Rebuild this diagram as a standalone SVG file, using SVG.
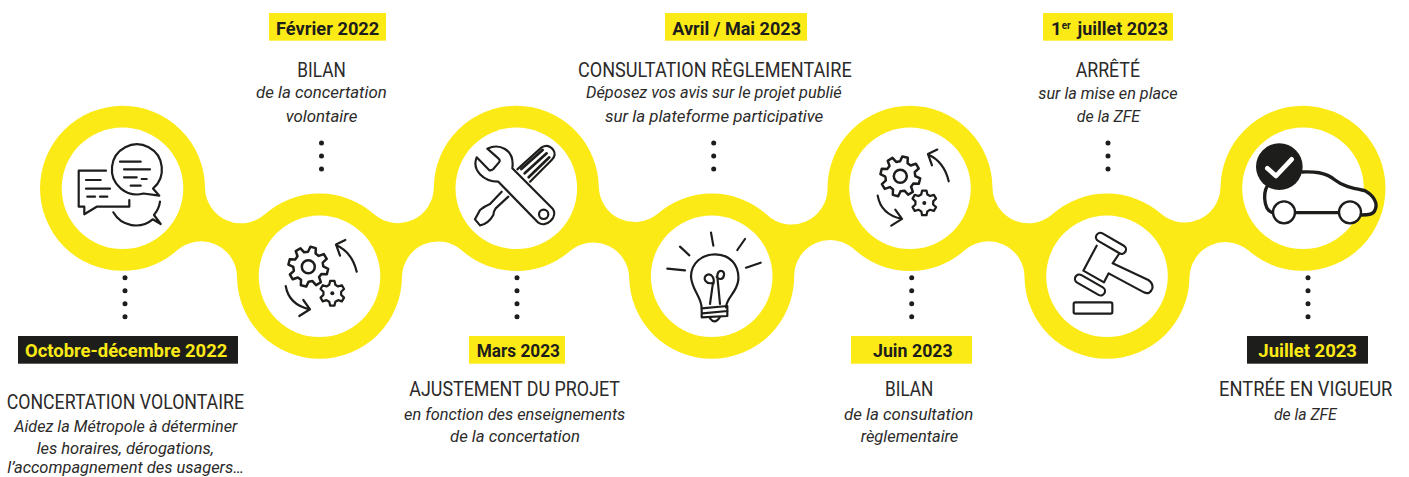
<svg xmlns="http://www.w3.org/2000/svg" width="1409" height="477" viewBox="0 0 1409 477">
<style>
text{font-family:Roboto,"Liberation Sans",sans-serif;fill:#2b2a29}
.date{font-size:18.5px;font-weight:700;fill:#1d1d1b}
.datey{font-size:18.5px;font-weight:700;fill:#fcea16}
.head{font-size:21px;font-weight:400}
.sub{font-size:16px;font-style:italic}
.by{fill:#fcea16}
.bk{fill:#1d1d1b}
.hole{fill:#fff}
.ic{fill:none;stroke:#1d1d1b;stroke-linecap:round;stroke-linejoin:round;stroke-width:2.2}
.ic3{fill:none;stroke:#1d1d1b;stroke-linecap:round;stroke-linejoin:round;stroke-width:6.5}
.dots{fill:none;stroke:#1d1d1b;stroke-width:5;stroke-linecap:round;stroke-dasharray:0 13}
</style>
<defs>
<polygon id="gear8" points=".724,-.194 .99,-.139 .99,.139 .724,.194 .649,.375 .798,.602 .602,.798 .375,.649 .194,.724 .139,.99 -.139,.99 -.194,.724 -.375,.649 -.602,.798 -.798,.602 -.649,.375 -.724,.194 -.99,.139 -.99,-.139 -.724,-.194 -.649,-.375 -.798,-.602 -.602,-.798 -.375,-.649 -.194,-.724 -.139,-.99 .139,-.99 .194,-.724 .375,-.649 .602,-.798 .798,-.602 .649,-.375"/>
<polygon id="gear6" points=".677,-.246 .985,-.174 .985,.174 .677,.246 .552,.463 .643,.766 .342,.94 .126,.709 -.126,.709 -.342,.94 -.643,.766 -.552,.463 -.677,.246 -.985,.174 -.985,-.174 -.677,-.246 -.552,-.463 -.643,-.766 -.342,-.94 -.126,-.709 .126,-.709 .342,-.94 .643,-.766 .552,-.463"/>
<g id="gears">
<use href="#gear8" transform="translate(308.3,266.7) rotate(14) scale(20)" fill="none" stroke="#1d1d1b" stroke-width=".125" stroke-linejoin="round"/>
<circle cx="308.3" cy="266.7" r="6.5" fill="none" stroke="#1d1d1b" stroke-width="2.5"/>
<use href="#gear6" transform="translate(332.3,293.3) rotate(30) scale(12.5)" fill="#fff" stroke="#1d1d1b" stroke-width=".18" stroke-linejoin="round"/>
<circle cx="332.3" cy="293.3" r="2" class="bk"/>
<path class="ic" d="M356.7,271.7Q352,252 336,245M345.3,240L336,244.5L340,255.7"/>
<path class="ic" d="M285.7,286Q289,305 310,309.3M303.3,300L310,309.3L299.3,316"/>
</g>
</defs>

<g id="timeline-band">
<path class="by" d="M40,188.3A82.5,82.5 0 0 1 122.5,105.8A82.5,82.5 0 0 1 205,187.6A36,36 0 0 0 264.85,214.3A82.5,82.5 0 0 1 374.15,214.3A36,36 0 0 0 433.8,187.6A82.5,82.5 0 0 1 516.3,105.8A82.5,82.5 0 0 1 598.8,187.6A36,36 0 0 0 657.05,214.3A82.5,82.5 0 0 1 766.35,214.3A36,36 0 0 0 827.5,187.6A82.5,82.5 0 0 1 910,105.8A82.5,82.5 0 0 1 992.5,187.6A36,36 0 0 0 1052.35,214.3A82.5,82.5 0 0 1 1161.65,214.3A36,36 0 0 0 1220.5,187.6A82.5,82.5 0 0 1 1303,105.8A82.5,82.5 0 0 1 1385.5,188.3A82.5,82.5 0 0 1 1303,270.8A82.5,82.5 0 0 1 1248.35,250.3A36,36 0 0 0 1189.5,277A82.5,82.5 0 0 1 1107,358.8A82.5,82.5 0 0 1 1024.5,277A36,36 0 0 0 964.65,250.3A82.5,82.5 0 0 1 855.35,250.3A36,36 0 0 0 794.2,277A82.5,82.5 0 0 1 711.7,358.8A82.5,82.5 0 0 1 629.2,277A36,36 0 0 0 570.95,250.3A82.5,82.5 0 0 1 461.65,250.3A36,36 0 0 0 402,277A82.5,82.5 0 0 1 319.5,358.8A82.5,82.5 0 0 1 237,277A36,36 0 0 0 177.15,250.3A82.5,82.5 0 0 1 122.5,270.8A82.5,82.5 0 0 1 40,188.3Z"/>
</g>

<g id="connectors">
<line class="dots" x1="125" y1="277.7" x2="125" y2="317"/>
<line class="dots" x1="321.5" y1="143" x2="321.5" y2="182"/>
<line class="dots" x1="517" y1="277.7" x2="517" y2="317"/>
<line class="dots" x1="713.7" y1="143" x2="713.7" y2="182"/>
<line class="dots" x1="911.7" y1="277.7" x2="911.7" y2="317"/>
<line class="dots" x1="1108" y1="143" x2="1108" y2="182"/>
<line class="dots" x1="1308" y1="277.7" x2="1308" y2="317"/>
</g>

<g id="node-octobre">
<circle class="hole" cx="122.5" cy="188.3" r="60.8"/>
<g class="ic">
<path d="M153,188.5L159.3,195.7L143.5,193.5A25,25 0 1 1 153,188.5Z"/>
<path d="M120,161.7H140.7M124,169.3H150M124,177.3H136.7M141.7,179H146.7M130.7,185.7H140.7"/>
<path d="M106,170.7H78.7V206.7H84.3V214.3L96.7,206.7H129.3V200"/>
<path d="M86,180H100.7M86,188.7H110M87.3,196.7H95M100,196.7H107.3"/>
<path d="M113.3,212.3A26,26 0 0 0 152.7,219.3L160.7,224L154,215A26,26 0 0 0 160,201.7"/>
</g>
<rect class="bk" x="18" y="336" width="220" height="27.7"/>
<text class="datey" x="25" y="356.7" textLength="202.3" lengthAdjust="spacingAndGlyphs">Octobre-décembre 2022</text>
<text class="head" x="6.7" y="409.3" textLength="237.3" lengthAdjust="spacingAndGlyphs">CONCERTATION VOLONTAIRE</text>
<text class="sub" x="14.3" y="431.7" textLength="223" lengthAdjust="spacingAndGlyphs">Aidez la Métropole à déterminer</text>
<text class="sub" x="36.7" y="453.5" textLength="177.3" lengthAdjust="spacingAndGlyphs">les horaires, dérogations,</text>
<text class="sub" x="7.3" y="473.4" textLength="236.7" lengthAdjust="spacingAndGlyphs">l’accompagnement des usagers…</text>
</g>

<g id="node-fevrier">
<circle class="hole" cx="319.5" cy="276.3" r="60.8"/>
<use href="#gears"/>
<rect class="by" x="269" y="13" width="117" height="27.7"/>
<text class="date" x="276" y="35" textLength="103.3" lengthAdjust="spacingAndGlyphs">Février 2022</text>
<text class="head" x="297.3" y="76.5" textLength="48.4" lengthAdjust="spacingAndGlyphs">BILAN</text>
<text class="sub" x="256" y="98.3" textLength="130.7" lengthAdjust="spacingAndGlyphs">de la concertation</text>
<text class="sub" x="285.7" y="121.7" textLength="71.6" lengthAdjust="spacingAndGlyphs">volontaire</text>
</g>

<g id="node-mars">
<circle class="hole" cx="516.3" cy="188.3" r="60.8"/>
<g transform="translate(430,100) scale(.33333)" class="ic3">
<path d="M262,208L335,142Q355,130 370,150Q380,165 365,180L300,245"/>
<path style="stroke-width:8" d="M274,207L338,150M284,220L350,160M296,232L358,172"/>
<path d="M172,146C205,130 255,145 247,205L368,326C385,350 350,385 325,368L205,245C160,245 125,210 140,172L178,211Q185,212 190,207L207,187Q212,180 205,175Z" fill="#fff"/>
<circle cx="341" cy="343" r="14"/>
<path d="M215,275L180,312Q165,318 150,330L135,358L150,376Q175,372 190,345Q190,335 197,325L235,290"/>
</g>
<rect class="by" x="469" y="336" width="96" height="27.7"/>
<text class="date" x="476.7" y="356.7" textLength="83.3" lengthAdjust="spacingAndGlyphs">Mars 2023</text>
<text class="head" x="409.3" y="396" textLength="210.7" lengthAdjust="spacingAndGlyphs">AJUSTEMENT DU PROJET</text>
<text class="sub" x="404" y="420" textLength="221.3" lengthAdjust="spacingAndGlyphs">en fonction des enseignements</text>
<text class="sub" x="450" y="442" textLength="130" lengthAdjust="spacingAndGlyphs">de la concertation</text>
</g>

<g id="node-avril">
<circle class="hole" cx="711.7" cy="276.3" r="60.8"/>
<g transform="translate(430,100) scale(.33333)" class="ic3">
<path d="M843,398L850,437M945,417L922,450M992,488L948,503M750,440L778,466M712,506L765,511"/>
<path d="M815,625C815,590 785,570 783,530C783,490 815,463 855,463C900,463 928,495 925,540C920,580 890,590 888,622"/>
<path d="M815,625L892,618M817,640L893,633M815,625V652L892,648V618"/>
<path d="M840,655Q855,675 870,651"/>
<path d="M840,612L849,548C830,555 815,535 830,525C845,518 855,535 850,552"/>
<path d="M870,612L862,530C862,505 885,510 882,525C880,540 865,540 860,530"/>
</g>
<rect class="by" x="665" y="13" width="142" height="27.7"/>
<text class="date" x="672.3" y="35" textLength="128.7" lengthAdjust="spacingAndGlyphs">Avril / Mai 2023</text>
<text class="head" x="578" y="76.5" textLength="273.7" lengthAdjust="spacingAndGlyphs">CONSULTATION RÈGLEMENTAIRE</text>
<text class="sub" x="586" y="98.3" textLength="255.7" lengthAdjust="spacingAndGlyphs">Déposez vos avis sur le projet publié</text>
<text class="sub" x="605" y="121.7" textLength="218.3" lengthAdjust="spacingAndGlyphs">sur la plateforme participative</text>
</g>

<g id="node-juin">
<circle class="hole" cx="910" cy="188.3" r="60.8"/>
<use href="#gears" transform="translate(592,-90.4)"/>
<rect class="by" x="851" y="336" width="121" height="27.7"/>
<text class="date" x="873" y="356.7" textLength="79.7" lengthAdjust="spacingAndGlyphs">Juin 2023</text>
<text class="head" x="885" y="396" textLength="48.3" lengthAdjust="spacingAndGlyphs">BILAN</text>
<text class="sub" x="844" y="420" textLength="129.3" lengthAdjust="spacingAndGlyphs">de la consultation</text>
<text class="sub" x="860.7" y="442" textLength="97.6" lengthAdjust="spacingAndGlyphs">règlementaire</text>
</g>

<g id="node-juillet-1">
<circle class="hole" cx="1107" cy="276.3" r="60.8"/>
<g transform="translate(1020,100) scale(.33333)" class="ic3">
<path d="M230,437L190,512L252,547L266,520L372,577Q390,585 397,565Q400,550 385,540L278,490L297,462"/>
<rect x="223" y="417" width="100" height="26" rx="13" transform="rotate(30 273 430)" fill="#fff"/>
<rect x="160" y="542" width="100" height="26" rx="13" transform="rotate(30 210 555)" fill="#fff"/>
<rect x="161" y="607" width="116" height="34" rx="5"/>
</g>
<rect class="by" x="1043" y="13" width="130" height="27.7"/>
<text class="date" x="1051" y="35">1<tspan font-size="10" dy="-6">er</tspan><tspan x="1073" dy="6" textLength="95" lengthAdjust="spacingAndGlyphs"> juillet 2023</tspan></text>
<text class="head" x="1075.7" y="76.5" textLength="64.3" lengthAdjust="spacingAndGlyphs">ARRÊTÉ</text>
<text class="sub" x="1038.3" y="98.5" textLength="139.3" lengthAdjust="spacingAndGlyphs">sur la mise en place</text>
<text class="sub" x="1076.7" y="121.7" textLength="63.3" lengthAdjust="spacingAndGlyphs">de la ZFE</text>
</g>

<g id="node-juillet-2">
<circle class="hole" cx="1303" cy="188.3" r="60.8"/>
<g transform="translate(1020,100) scale(.33333)">
<path fill="#fff" d="M846,216C880,215 915,215 945,240C970,260 1000,265 1035,272C1060,285 1075,310 1065,330C1060,345 1040,345 1025,345L755,337C728,325 730,270 745,255Z"/>
<g class="ic3" style="stroke-width:10">
<path d="M846,216C880,215 915,215 945,240C970,260 1000,265 1035,272C1060,285 1075,310 1065,330C1060,345 1040,345 1025,345"/>
<path d="M745,255C730,270 728,325 755,337"/>
<path d="M830,338H955"/>
</g>
<circle cx="792" cy="337" r="33" fill="#fff" stroke="#1d1d1b" stroke-width="7"/>
<circle cx="990" cy="337" r="33" fill="#fff" stroke="#1d1d1b" stroke-width="7"/>
<circle cx="778" cy="200" r="70" class="bk"/>
<path d="M742,205L768,228L815,178" fill="none" stroke="#fff" stroke-width="14" stroke-linecap="round" stroke-linejoin="round"/>
</g>
<rect class="bk" x="1247" y="336" width="121" height="27.7"/>
<text class="datey" x="1258.3" y="356.7" textLength="98.7" lengthAdjust="spacingAndGlyphs">Juillet 2023</text>
<text class="head" style="font-size:19.5px" x="1219" y="396" textLength="173.3" lengthAdjust="spacingAndGlyphs">ENTRÉE EN VIGUEUR</text>
<text class="sub" x="1274" y="420" textLength="62.7" lengthAdjust="spacingAndGlyphs">de la ZFE</text>
</g>
</svg>
